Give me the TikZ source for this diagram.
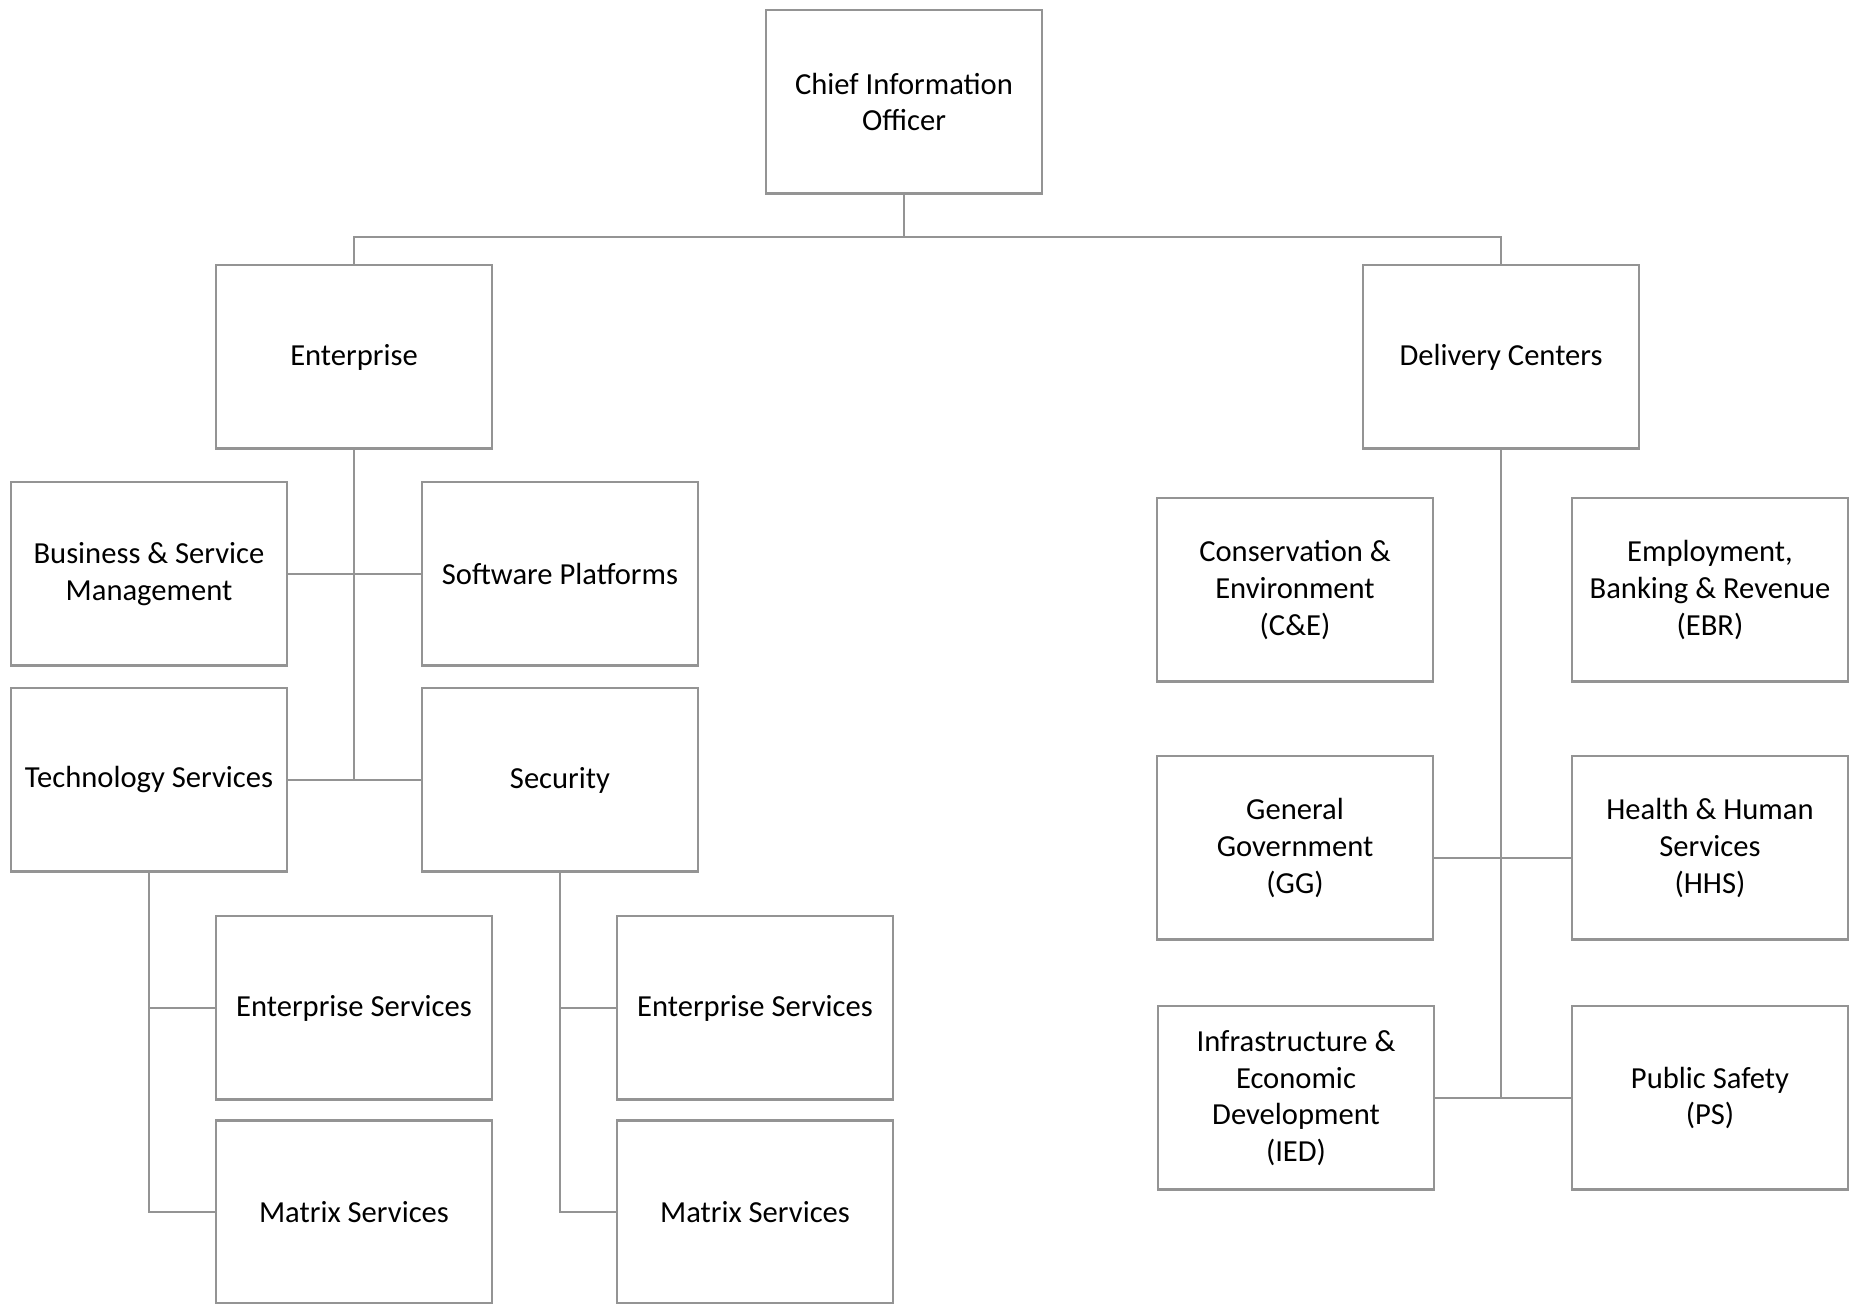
\documentclass[tikz,border=0pt]{standalone}
\usepackage{fontspec}
\setmainfont{Carlito}
\usepackage{tikz}
\usetikzlibrary{calc, positioning}
\definecolor{linegray}{gray}{0.58}
\tikzset{
    orgbox/.style={rectangle, draw=linegray, line width=0.6pt, fill=white, minimum width=2.76cm, minimum height=1.83cm, align=center, inner sep=2pt, font=\fontsize{8.7}{10.4}\selectfont},
    orglink/.style={draw=linegray, line width=0.6pt}
}
\begin{document}
\begin{tikzpicture}[x=0.01cm, y=-0.01cm]
    \useasboundingbox (0,0) rectangle (1851,1304);
    % top level
    \node[orgbox] (cio) at (904,102) {Chief Information\\Officer};
    \node[orgbox] (ent) at (354,357) {Enterprise};
    \node[orgbox] (dc) at (1501,357) {Delivery Centers};
    \coordinate (bus) at (904,237);

    % enterprise branch
    \node[orgbox] (bsm) at (149,574) {Business \& Service\\Management};
    \node[orgbox] (sp) at (560,574) {Software Platforms};
    \node[orgbox] (ts) at (149,780) {Technology Services};
    \node[orgbox] (sec) at (560,780) {Security};
    \node[orgbox] (esl) at (354,1008) {Enterprise Services};
    \node[orgbox] (msl) at (354,1212) {Matrix Services};
    \node[orgbox] (esr) at (755,1008) {Enterprise Services};
    \node[orgbox] (msr) at (755,1212) {Matrix Services};

    % delivery centers branch
    \node[orgbox] (ce) at (1295,590) {Conservation \&\\Environment\\(C\&E)};
    \node[orgbox] (ebr) at (1710,590) {Employment,\\Banking \& Revenue\\(EBR)};
    \node[orgbox] (gg) at (1295,848) {General\\Government\\(GG)};
    \node[orgbox] (hhs) at (1710,848) {Health \& Human\\Services\\(HHS)};
    \node[orgbox] (ied) at (1296,1098) {Infrastructure \&\\Economic\\Development\\(IED)};
    \node[orgbox] (ps) at (1710,1098) {Public Safety\\(PS)};

    % connectors
    \draw[orglink] (cio.south) -- (bus);
    \draw[orglink] (ent.north) |- (bus) -| (dc.north);
    \draw[orglink] (ent.south) -- (ent.south |- ts.east);
    \draw[orglink] (bsm.east) -- (sp.west);
    \draw[orglink] (ts.east) -- (sec.west);
    \draw[orglink] (ts.south) |- (msl.west);
    \draw[orglink] (ts.south |- esl.west) -- (esl.west);
    \draw[orglink] (sec.south) |- (msr.west);
    \draw[orglink] (sec.south |- esr.west) -- (esr.west);
    \draw[orglink] (dc.south) -- (dc.south |- ied.east);
    \draw[orglink] ([yshift=-0.1cm]gg.east) -- ([yshift=-0.1cm]hhs.west);
    \draw[orglink] (ied.east) -- (ps.west);
\end{tikzpicture}
\end{document}
